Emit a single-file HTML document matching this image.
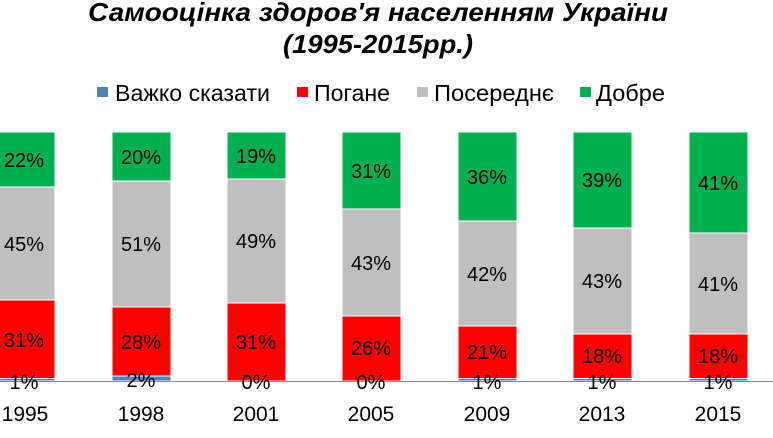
<!DOCTYPE html>
<html><head><meta charset="utf-8"><style>body{margin:0;background:#fff}svg{display:block}text{font-family:"Liberation Sans",sans-serif}</style></head><body>
<svg width="773" height="438" viewBox="0 0 773 438">
<text x="88" y="21" font-size="26" font-weight="bold" font-style="italic" textLength="580" lengthAdjust="spacingAndGlyphs">Самооцінка здоров'я населенням України</text>
<text x="283" y="53" font-size="26" font-weight="bold" font-style="italic" textLength="190" lengthAdjust="spacingAndGlyphs">(1995-2015рр.)</text>
<g font-size="23" fill="#000">
<rect x="97" y="87" width="11" height="10" fill="#4F81BD"/><text x="115" y="101" textLength="155" lengthAdjust="spacingAndGlyphs">Важко сказати</text>
<rect x="297" y="87" width="11" height="10" fill="#FF0000"/><text x="314" y="101" textLength="76" lengthAdjust="spacingAndGlyphs">Погане</text>
<rect x="417" y="87" width="11" height="10" fill="#BFBFBF"/><text x="434" y="101" textLength="120" lengthAdjust="spacingAndGlyphs">Посереднє</text>
<rect x="580" y="87" width="11" height="10" fill="#00B050"/><text x="596" y="101" textLength="69" lengthAdjust="spacingAndGlyphs">Добре</text>
</g>
<g stroke="#fff" stroke-width="1">
<rect x="-4" y="132" width="59" height="55" fill="#00B050"/>
<rect x="-4" y="187" width="59" height="113" fill="#BFBFBF"/>
<rect x="-4" y="300" width="59" height="78.5" fill="#FF0000"/>
<rect x="-4" y="378.5" width="59" height="2.5" fill="#4F81BD"/>
<rect x="112" y="132" width="59" height="49" fill="#00B050"/>
<rect x="112" y="181" width="59" height="126" fill="#BFBFBF"/>
<rect x="112" y="307" width="59" height="69" fill="#FF0000"/>
<rect x="112" y="376" width="59" height="5" fill="#4F81BD"/>
<rect x="227" y="132" width="59" height="47" fill="#00B050"/>
<rect x="227" y="179" width="59" height="124" fill="#BFBFBF"/>
<rect x="227" y="303" width="59" height="78" fill="#FF0000"/>
<rect x="342" y="132" width="59" height="77" fill="#00B050"/>
<rect x="342" y="209" width="59" height="107" fill="#BFBFBF"/>
<rect x="342" y="316" width="59" height="65" fill="#FF0000"/>
<rect x="458" y="132" width="59" height="89" fill="#00B050"/>
<rect x="458" y="221" width="59" height="105" fill="#BFBFBF"/>
<rect x="458" y="326" width="59" height="52.5" fill="#FF0000"/>
<rect x="458" y="378.5" width="59" height="2.5" fill="#4F81BD"/>
<rect x="573" y="132" width="59" height="96" fill="#00B050"/>
<rect x="573" y="228" width="59" height="106" fill="#BFBFBF"/>
<rect x="573" y="334" width="59" height="44.5" fill="#FF0000"/>
<rect x="573" y="378.5" width="59" height="2.5" fill="#4F81BD"/>
<rect x="689" y="132" width="59" height="101" fill="#00B050"/>
<rect x="689" y="233" width="59" height="101" fill="#BFBFBF"/>
<rect x="689" y="334" width="59" height="44.5" fill="#FF0000"/>
<rect x="689" y="378.5" width="59" height="2.5" fill="#4F81BD"/>
</g>
<line x1="0" y1="381.5" x2="773" y2="381.5" stroke="#868686" stroke-width="1"/>
<g font-size="20" text-anchor="middle" fill="#000">
<text x="24" y="167">22%</text><text x="24" y="251">45%</text><text x="24" y="347">31%</text><text x="24" y="389">1%</text>
<text x="141" y="164">20%</text><text x="141" y="251">51%</text><text x="141" y="349">28%</text><text x="141" y="387">2%</text>
<text x="256" y="163">19%</text><text x="256" y="248">49%</text><text x="256" y="349">31%</text><text x="256" y="389">0%</text>
<text x="371" y="178">31%</text><text x="371" y="270">43%</text><text x="371" y="355">26%</text><text x="371" y="389">0%</text>
<text x="487" y="184">36%</text><text x="487" y="281">42%</text><text x="487" y="359">21%</text><text x="487" y="389">1%</text>
<text x="602" y="187">39%</text><text x="602" y="288">43%</text><text x="602" y="363">18%</text><text x="602" y="389">1%</text>
<text x="718" y="190">41%</text><text x="718" y="291">41%</text><text x="718" y="363">18%</text><text x="718" y="389">1%</text>
</g>
<g font-size="21" text-anchor="middle" fill="#000">
<text x="25" y="421">1995</text><text x="141" y="421">1998</text><text x="256" y="421">2001</text><text x="371" y="421">2005</text><text x="487" y="421">2009</text><text x="602" y="421">2013</text><text x="718" y="421">2015</text>
</g>
</svg>
</body></html>
